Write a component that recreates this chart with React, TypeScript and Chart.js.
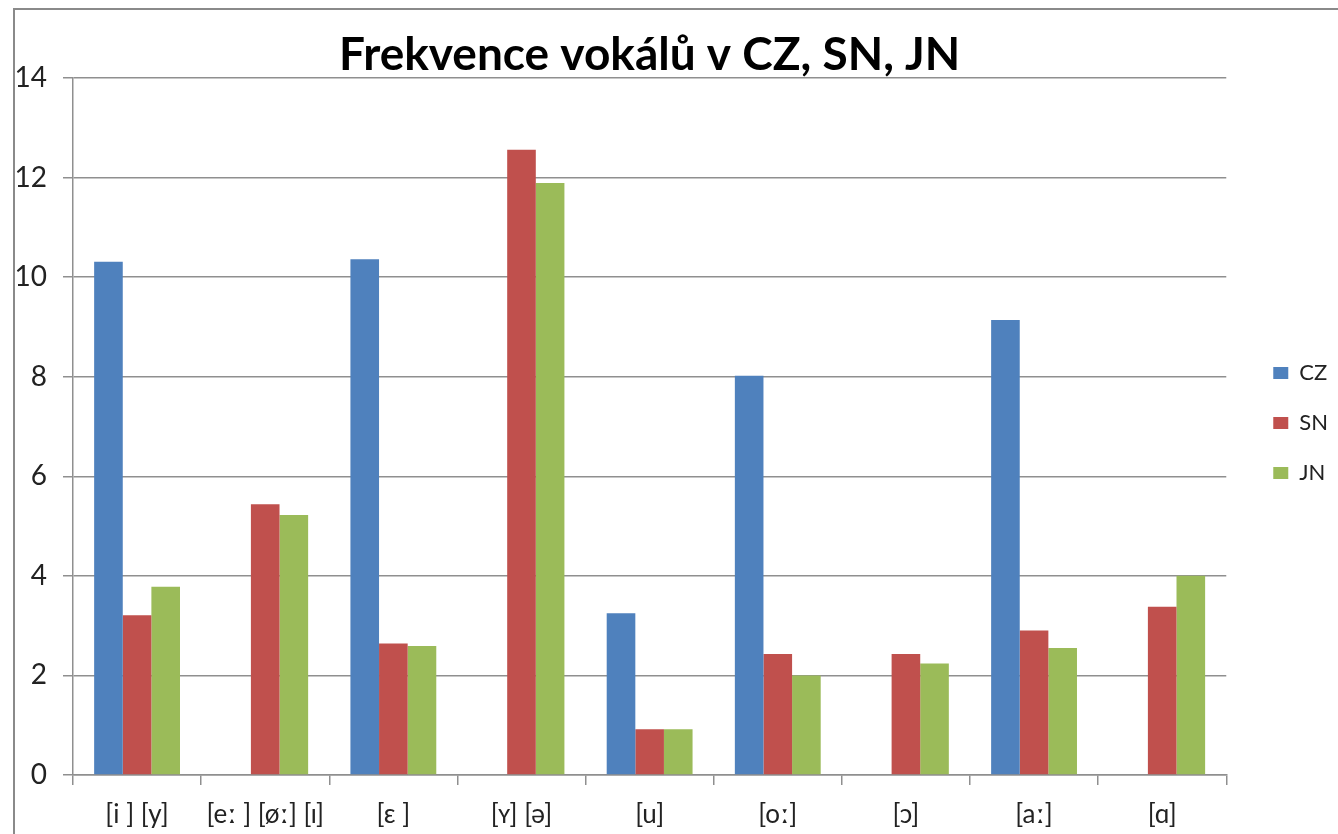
import React, { useEffect, useRef } from 'react';
import { Chart, registerables } from 'chart.js';

Chart.register(...registerables);

const chartTitle = 'Frekvence vokálů v CZ, SN, JN';
const categories = ['[i ] [y]', '[eː ] [øː] [ɪ]', '[ɛ ]', '[ʏ] [ə]', '[u]', '[oː]', '[ɔ]', '[aː]', '[ɑ]'];
const seriesNames = ['CZ', 'SN', 'JN'];
const czValues = [10.31, null, 10.36, null, 3.25, 8.02, null, 9.14, null];
const snValues = [3.21, 5.44, 2.64, 12.56, 0.92, 2.43, 2.43, 2.9, 3.38];
const jnValues = [3.78, 5.22, 2.59, 11.89, 0.92, 2.0, 2.24, 2.55, 4.0];
const seriesColors = ['#4F81BD', '#C0504D', '#9BBB59'];
const yMin = 0;
const yMax = 14;
const yStep = 2;

const FONT = 'Lato, "Open Sans", "DejaVu Sans", sans-serif';

const borderPlugin = {
  id: 'outerBorder',
  beforeDraw(chart: any) {
    const ctx = chart.ctx;
    ctx.save();
    ctx.fillStyle = '#ffffff';
    ctx.fillRect(0, 0, chart.width, chart.height);
    ctx.strokeStyle = '#8a8a8a';
    ctx.lineWidth = 2;
    ctx.strokeRect(14, 9, 2000, 2000);
    ctx.restore();
  },
};

export default function App() {
  const canvasRef = useRef<HTMLCanvasElement | null>(null);

  useEffect(() => {
    document.body.style.margin = '0';
    const canvas = canvasRef.current;
    if (!canvas) return;
    const chart = new Chart(canvas, {
      type: 'bar',
      data: {
        labels: categories,
        datasets: [
          { label: seriesNames[0], data: czValues, backgroundColor: seriesColors[0], borderWidth: 0 },
          { label: seriesNames[1], data: snValues, backgroundColor: seriesColors[1], borderWidth: 0 },
          { label: seriesNames[2], data: jnValues, backgroundColor: seriesColors[2], borderWidth: 0 },
        ],
      },
      options: {
        responsive: false,
        animation: false,
        maintainAspectRatio: false,
        layout: { padding: { left: 0, right: 0, top: 0, bottom: 0 } },
        datasets: { bar: { barPercentage: 1, categoryPercentage: 0.67 } },
        plugins: {
          title: {
            display: true,
            text: chartTitle,
            fullSize: false,
            color: '#000000',
            font: { family: FONT, size: 46, weight: 'bold', lineHeight: 1 },
            padding: { top: 32, bottom: 0 },
          },
          legend: {
            display: true,
            position: 'right',
            align: 'center',
            title: {
              display: true,
              text: ' ',
              font: { family: FONT, size: 10, lineHeight: 1 },
              padding: 1,
            },
            labels: {
              color: '#222222',
              font: { family: FONT, size: 22 },
              boxWidth: 15,
              boxHeight: 12,
              padding: 28,
            },
          },
          tooltip: { enabled: false },
        },
        scales: {
          x: {
            type: 'category',
            offset: true,
            grid: {
              display: true,
              offset: true,
              drawOnChartArea: false,
              drawTicks: true,
              tickLength: 10,
              color: '#8f8f8f',
              lineWidth: 1.5,
            },
            border: { display: true, color: '#8f8f8f', width: 1.5 },
            ticks: {
              color: '#222222',
              font: { family: FONT, size: 26 },
              padding: 14,
              maxRotation: 0,
              autoSkip: false,
            },
            afterFit(axis: any) {
              axis.height = 59;
            },
          },
          y: {
            min: yMin,
            max: yMax,
            ticks: {
              stepSize: yStep,
              color: '#222222',
              font: { family: FONT, size: 28 },
              padding: 16,
            },
            grid: {
              color: '#8f8f8f',
              lineWidth: 1.5,
              tickLength: 10,
              drawTicks: true,
            },
            border: { display: true, color: '#8f8f8f', width: 1.5 },
            afterFit(axis: any) {
              axis.width = 73;
            },
          },
          yPad: {
            position: 'right',
            display: true,
            grid: { display: false },
            border: { display: false },
            ticks: { display: false },
            afterFit(axis: any) {
              axis.width = 19;
            },
          },
        },
      },
      plugins: [borderPlugin],
    } as any);
    return () => chart.destroy();
  }, []);

  return (
    <div style={{ position: 'fixed', left: 0, top: 0, width: 1338, height: 834, overflow: 'hidden', background: '#fff' }}>
      <canvas ref={canvasRef} width={1338} height={834} style={{ display: 'block' }} />
    </div>
  );
}
